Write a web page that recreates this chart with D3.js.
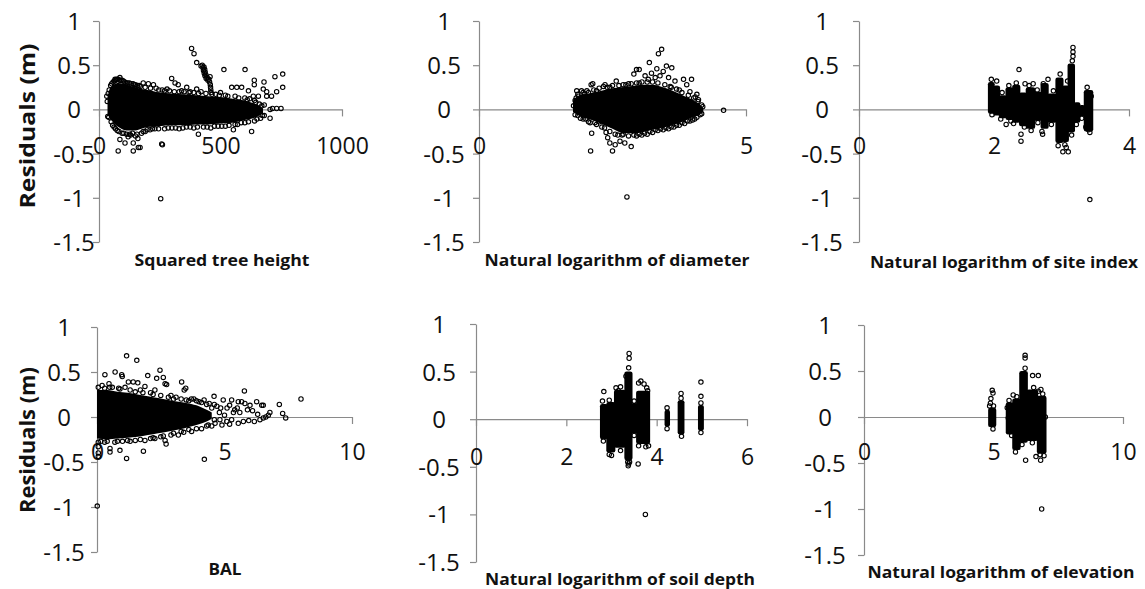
<!DOCTYPE html>
<html>
<head>
<meta charset="utf-8">
<script src="https://cdn.jsdelivr.net/npm/d3@7"></script>
<style>
  body { margin: 0; background: #fff; }
  svg { display: block; }
  text { font-family: "Open Sans", "Liberation Sans", sans-serif; }
</style>
</head>
<body>
<svg id="chart" width="1145" height="589"></svg>
<script>
// ---- axis ticks ----
const residualTicks = [1, 0.5, 0, -0.5, -1, -1.5];
const heightTicks = [0, 500, 1000];
const diameterTicks = [0, 5];
const siteIndexTicks = [0, 2, 4];
const balTicks = [0, 5, 10];
const soilDepthTicks = [0, 2, 4, 6];
const elevationTicks = [0, 5, 10];

// ---- residuals vs squared tree height ----
// overplotted core: [x, lowest residual, highest residual]
const heightCore = [
  [35, -0.06, 0.14], [45, -0.1, 0.24], [60, -0.15, 0.28], [80, -0.2, 0.3],
  [100, -0.23, 0.29], [125, -0.24, 0.27], [150, -0.24, 0.25], [175, -0.22, 0.23],
  [200, -0.2, 0.22], [250, -0.19, 0.19], [300, -0.18, 0.18], [350, -0.18, 0.17],
  [400, -0.17, 0.16], [450, -0.17, 0.15], [500, -0.16, 0.14], [550, -0.15, 0.12],
  [600, -0.12, 0.1], [635, -0.1, 0.07], [660, -0.07, 0.04], [675, -0.04, 0.01]
];
const heightPoints = [
  [38,0.18],[48,0.27],[58,0.31],[68,0.33],[78,0.34],[90,0.33],[100,0.32],[112,0.3],[125,0.3],
  [140,0.29],[150,0.28],[165,0.27],[182,0.3],[203,0.29],[224,0.28],[235,0.24],[260,0.22],[280,0.23],
  [299,0.35],[313,0.3],[326,0.28],[340,0.21],[361,0.25],[375,0.2],[402,0.23],[420,0.2],[480,0.17],
  [500,0.19],[520,0.16],[546,0.25],[567,0.25],[587,0.25],[560,0.15],[600,0.13],[615,0.21],[620,0.12],
  [635,0.15],[640,0.1],[656,0.15],[660,0.06],[676,0.23],[680,0.05],
  [42,0.22],[52,0.29],[63,0.32],[73,0.34],[84,0.33],[95,0.33],[106,0.31],[118,0.3],[132,0.29],
  [145,0.28],[158,0.27],[170,0.26],[190,0.25],[212,0.24],[246,0.22],[270,0.21],[290,0.21],[310,0.2],
  [330,0.2],[350,0.2],[370,0.19],[390,0.19],[410,0.18],[440,0.18],[465,0.17],[495,0.16],[530,0.15],
  [575,0.13],[610,0.11],[645,0.08],[670,0.04],
  [36,-0.08],[50,-0.14],[62,-0.2],[75,-0.24],[86,-0.34],[95,-0.27],[107,-0.38],[114,-0.28],[120,-0.31],
  [130,-0.29],[141,-0.38],[150,-0.3],[160,-0.33],[169,-0.43],[175,-0.27],[190,-0.25],[210,-0.23],
  [230,-0.22],[258,-0.39],[270,-0.22],[300,-0.21],[330,-0.22],[360,-0.2],[390,-0.21],[409,-0.28],
  [430,-0.2],[460,-0.21],[490,-0.19],[520,-0.19],[553,-0.23],[570,-0.17],[600,-0.15],[628,-0.25],
  [640,-0.13],[665,-0.1],[680,-0.07],[704,-0.1],
  [40,-0.09],[56,-0.18],[68,-0.22],[82,-0.25],[102,-0.27],[126,-0.28],[138,-0.27],[156,-0.28],
  [182,-0.25],[198,-0.23],[220,-0.22],[245,-0.22],[285,-0.21],[315,-0.21],[345,-0.21],[375,-0.2],
  [405,-0.2],[445,-0.2],[475,-0.19],[505,-0.19],[535,-0.18],[560,-0.17],[585,-0.15],[615,-0.14],
  [650,-0.11],[672,-0.07],
  [381,0.69],[391,0.63],[402,0.53],[254,-1.01],[79,-0.47],[141,-0.47],[162,-0.43],[261,-0.4],
  [514,0.45],[601,0.45],[639,0.33],[639,0.28],[679,0.31],[724,0.37],[756,0.4],[756,0.25],[731,0.2],
  [710,0.15],[690,0.2],[690,0.15],[714,0.01],[731,0.01],[749,0.01],[704,0.0],[32,0.15],[34,0.09],
  [66,0.34],[86,0.36],
  [420,0.49],[425,0.5],[428,0.47],[432,0.48],[430,0.44],[435,0.45],[433,0.41],[437,0.42],[436,0.38],
  [440,0.39],[441,0.35],[445,0.36],[448,0.33],[452,0.34],[455,0.31],[457,0.37],[458,0.28],[459,0.25],
  [460,0.22],[461,0.19]
];

// ---- residuals vs ln(diameter) ----
const diameterCore = [
  [1.76, -0.03, 0.1], [1.9, -0.08, 0.16], [2.05, -0.11, 0.18], [2.2, -0.14, 0.2],
  [2.35, -0.18, 0.22], [2.5, -0.22, 0.24], [2.65, -0.26, 0.25], [2.8, -0.27, 0.26],
  [2.95, -0.27, 0.27], [3.1, -0.25, 0.28], [3.25, -0.23, 0.28], [3.4, -0.21, 0.26],
  [3.55, -0.19, 0.23], [3.7, -0.16, 0.19], [3.85, -0.13, 0.15], [4.0, -0.09, 0.11],
  [4.12, -0.06, 0.06], [4.2, -0.03, 0.02]
];
const diameterPoints = [
  [1.77,0.04],[1.8,0.1],[1.82,0.13],[1.86,0.15],[1.92,0.21],[1.83,0.21],[1.98,0.17],[2.05,0.19],
  [2.1,0.28],[2.13,0.29],[2.2,0.21],[2.33,0.26],[2.36,0.28],[2.45,0.25],[2.57,0.32],[2.62,0.27],
  [2.75,0.28],[2.85,0.29],[2.9,0.4],[2.95,0.45],[3.0,0.45],[3.0,0.3],[3.11,0.38],[3.17,0.34],
  [3.19,0.53],[3.23,0.41],[3.3,0.36],[3.33,0.46],[3.36,0.63],[3.39,0.38],[3.42,0.68],[3.45,0.43],
  [3.51,0.49],[3.55,0.36],[3.61,0.47],[3.6,0.25],[3.67,0.32],[3.75,0.22],[3.83,0.34],[3.89,0.28],
  [3.95,0.2],[3.98,0.34],[4.05,0.14],[4.08,0.17],[4.11,0.11],[4.19,0.03],[4.58,-0.01],
  [1.85,0.17],[1.95,0.19],[2.02,0.21],[2.15,0.22],[2.25,0.24],[2.4,0.25],[2.5,0.27],[2.7,0.28],
  [2.8,0.29],[2.95,0.3],[3.05,0.31],[3.15,0.31],[3.25,0.31],[3.35,0.3],[3.48,0.28],[3.58,0.26],
  [3.7,0.23],[3.8,0.19],[3.92,0.16],[4.02,0.13],[4.1,0.09],[4.17,0.05],
  [1.8,-0.06],[1.9,-0.1],[2.0,-0.11],[2.08,-0.15],[2.17,-0.15],[2.25,-0.14],[2.11,-0.27],[2.09,-0.47],
  [2.3,-0.2],[2.38,-0.26],[2.41,-0.32],[2.45,-0.38],[2.5,-0.47],[2.55,-0.4],[2.6,-0.29],[2.64,-0.36],
  [2.73,-0.38],[2.7,-0.28],[2.85,-0.42],[2.9,-0.29],[3.0,-0.28],[3.1,-0.27],[3.2,-0.25],[3.3,-0.23],
  [3.4,-0.22],[3.5,-0.21],[3.6,-0.2],[3.7,-0.18],[3.8,-0.15],[3.9,-0.13],[4.0,-0.12],[4.04,-0.11],
  [4.14,-0.06],[2.77,-0.99],
  [1.85,-0.07],[1.95,-0.11],[2.05,-0.14],[2.2,-0.17],[2.35,-0.21],[2.45,-0.25],[2.55,-0.28],
  [2.68,-0.29],[2.8,-0.3],[2.95,-0.3],[3.05,-0.29],[3.15,-0.28],[3.25,-0.26],[3.35,-0.24],
  [3.45,-0.23],[3.55,-0.22],[3.65,-0.2],[3.75,-0.18],[3.85,-0.16],[3.95,-0.13],[4.08,-0.09],[4.17,-0.05]
];

// ---- residuals vs ln(site index) ----
// overplotted columns: [x from, x to, lowest residual, highest residual]
const siteIndexStripes = [
  [1.92, 2.0, -0.05, 0.31], [2.0, 2.08, -0.07, 0.27], [2.08, 2.18, -0.1, 0.16],
  [2.18, 2.28, -0.12, 0.25], [2.28, 2.38, -0.15, 0.28], [2.38, 2.48, -0.19, 0.19],
  [2.48, 2.6, -0.22, 0.25], [2.6, 2.7, -0.13, 0.2], [2.7, 2.8, -0.22, 0.3],
  [2.8, 2.92, -0.15, 0.18], [2.92, 3.02, -0.38, 0.36], [3.02, 3.1, -0.37, 0.27],
  [3.1, 3.19, -0.26, 0.52], [3.19, 3.27, -0.15, 0.08], [3.27, 3.34, -0.08, 0.05],
  [3.34, 3.46, -0.25, 0.22]
];
const siteIndexPoints = [
  [3.17,0.7],[3.17,0.65],[3.17,0.6],[3.16,0.55],[2.37,0.45],[2.4,-0.28],[2.4,-0.36],[3.02,-0.48],
  [3.1,-0.48],[3.07,-0.43],[2.29,-0.16],[2.72,-0.28],[2.71,-0.25],[2.04,0.32],[1.96,0.34],[2.46,0.29],
  [2.58,0.29],[2.73,0.29],[2.8,0.34],[2.88,0.21],[2.98,0.4],[3.09,0.32],[3.38,0.25],[3.42,-0.26],
  [3.4,-0.23],[3.42,-1.02],[2.18,-0.17],[1.97,-0.06],[2.22,0.27],[2.33,0.3],[2.12,0.19],[2.52,0.27],
  [2.64,0.22],[2.55,-0.24],[2.65,-0.15],[2.85,-0.17],[2.95,-0.41],[3.05,-0.4],[3.15,-0.29],
  [3.22,-0.17],[3.3,-0.1],[2.45,-0.2],[2.1,-0.11],[2.25,-0.13],[3.44,0.15],[3.36,-0.2]
];

// ---- residuals vs BAL ----
const balCore = [
  [0.0, -0.24, 0.3], [0.4, -0.25, 0.3], [0.8, -0.24, 0.28], [1.2, -0.23, 0.27],
  [1.6, -0.22, 0.25], [2.0, -0.2, 0.23], [2.4, -0.18, 0.21], [2.8, -0.16, 0.19],
  [3.2, -0.14, 0.17], [3.6, -0.11, 0.15], [4.0, -0.08, 0.12], [4.3, -0.05, 0.08],
  [4.5, -0.02, 0.05]
];
const balPoints = [
  [0.05,0.33],[0.2,0.35],[0.31,0.47],[0.47,0.37],[0.6,0.33],[0.71,0.5],[0.85,0.32],[0.97,0.47],
  [0.99,0.45],[1.1,0.33],[1.16,0.68],[1.23,0.39],[1.42,0.39],[1.56,0.63],[1.6,0.38],[1.7,0.3],
  [1.88,0.34],[1.99,0.46],[2.1,0.27],[2.27,0.3],[2.34,0.43],[2.47,0.52],[2.6,0.44],[2.67,0.37],
  [2.73,0.36],[2.9,0.24],[3.1,0.22],[3.32,0.39],[3.42,0.3],[3.48,0.32],[3.7,0.2],[3.9,0.18],
  [4.1,0.16],[4.3,0.14],[4.59,0.23],[4.7,0.12],[4.95,0.19],[5.1,0.1],[5.28,0.19],[5.4,0.08],
  [5.54,0.17],[5.67,0.17],[5.78,0.29],[5.8,0.15],[6.0,0.13],[6.1,0.07],[6.26,0.17],[6.46,0.13],
  [6.52,0.13],[7.15,0.14],[8.0,0.2],[7.28,0.04],[7.4,-0.01],[6.78,0.05],[6.72,0.02],[6.62,0.0],
  [6.52,-0.01],[6.39,-0.03],[6.17,-0.05],[5.74,-0.05],[5.54,-0.07],[5.28,-0.03],[5.09,-0.05],
  [4.82,-0.03],[4.63,-0.07],[4.36,-0.09],[4.8,0.05],[5.0,0.02],[5.6,0.05],
  [3.6,0.18],[3.8,0.2],[4.0,0.17],[4.2,0.19],[4.4,0.15],[4.5,0.1],[4.6,0.14],[4.85,0.1],[5.2,0.13],
  [5.35,0.05],[5.5,0.1],[5.9,0.08],[6.3,0.03],[5.95,-0.04],[5.2,-0.08],[4.9,-0.09],[4.5,-0.1],
  [4.6,-0.03],[4.3,-0.1],[3.6,-0.14],[3.3,-0.16],[3.0,-0.18],[2.6,-0.21],[2.2,-0.23],[1.7,-0.25],
  [1.2,-0.26],[0.8,-0.27],[0.4,-0.27],[0.15,-0.27],[0.3,0.32],[0.5,0.33],[0.9,0.31],[1.3,0.3],
  [1.5,0.28],[1.8,0.27],[2.2,0.25],[2.5,0.24],[2.8,0.22],[3.0,0.2],[3.3,0.2],[3.5,0.19],
  [0.05,-0.28],[0.05,-0.33],[0.05,-0.4],[0.05,-0.44],[0.3,-0.28],[0.51,-0.39],[0.51,-0.35],
  [0.7,-0.28],[0.9,-0.37],[1.0,-0.27],[1.16,-0.46],[1.3,-0.27],[1.5,-0.26],[1.82,-0.38],
  [1.88,-0.26],[2.1,-0.24],[2.27,-0.24],[2.5,-0.22],[2.67,-0.26],[2.71,-0.3],[2.9,-0.2],
  [3.19,-0.2],[3.4,-0.17],[3.71,-0.16],[3.9,-0.13],[4.1,-0.13],[4.21,-0.47],[0.01,-0.99]
];

// ---- residuals vs ln(soil depth) ----
const soilDepthStripes = [
  [2.76, 2.9, -0.21, 0.16], [2.9, 3.07, -0.35, 0.18], [3.07, 3.3, -0.3, 0.31],
  [3.3, 3.45, -0.43, 0.5], [3.45, 3.56, -0.15, 0.17], [3.56, 3.84, -0.26, 0.3],
  [4.19, 4.28, -0.08, 0.1], [4.48, 4.6, -0.16, 0.2], [4.93, 5.03, -0.12, 0.15]
];
const soilDepthPoints = [
  [2.83,0.29],[2.8,0.19],[2.95,0.2],[3.1,0.33],[3.2,0.34],[3.15,0.3],[3.39,0.69],[3.39,0.64],
  [3.38,0.54],[3.32,0.45],[3.38,-0.47],[3.37,-0.49],[3.36,-0.45],[3.59,-0.47],[3.6,0.38],[3.65,0.4],
  [3.72,0.37],[3.8,0.3],[3.78,0.33],[3.82,-0.28],[3.76,-0.29],[3.6,-0.28],[3.0,-0.38],[2.95,-0.37],
  [2.82,-0.23],[3.2,-0.33],[3.4,-0.45],[4.23,0.12],[4.23,-0.1],[4.54,0.27],[4.54,0.22],[4.55,-0.18],
  [4.98,0.39],[4.98,0.24],[4.98,0.17],[4.98,-0.14],[3.5,0.19],[3.5,-0.17],[3.75,-1.0]
];

// ---- residuals vs ln(elevation) ----
const elevationStripes = [
  [4.82, 5.08, -0.11, 0.1], [5.5, 5.75, -0.19, 0.16], [5.75, 6.02, -0.36, 0.2],
  [6.02, 6.3, -0.28, 0.5], [6.3, 6.7, -0.26, 0.3], [6.7, 7.02, -0.4, 0.23]
];
const elevationPoints = [
  [4.95,0.29],[4.98,0.26],[4.9,0.2],[4.88,0.15],[4.98,-0.13],[4.85,0.12],[5.0,0.12],[5.57,-0.01],
  [5.6,0.18],[5.76,0.24],[5.7,-0.2],[5.85,-0.38],[5.9,0.22],[6.22,0.67],[6.22,0.64],[6.22,0.53],
  [6.15,0.4],[6.51,0.45],[6.73,0.45],[6.83,0.3],[6.73,0.28],[6.55,0.32],[6.9,0.25],[6.1,-0.3],
  [6.24,-0.47],[6.82,-0.47],[6.64,-0.43],[6.86,-1.0],[6.5,-0.28],[6.95,-0.42],[6.8,-0.41],
  [7.0,0.0],[5.53,0.1]
];

// ---- panel layout ----
const panels = [
  { title: "Squared tree height", ticks: heightTicks, domain: [0, 1000], core: heightCore, points: heightPoints,
    x0: 99, x1: 342, yTop: 21, yBot: 242, labelCx: 74, tickBase: 154, titleX: 222, titleY: 266, titleW: 175 },
  { title: "Natural logarithm of diameter", ticks: diameterTicks, domain: [0, 5], core: diameterCore, points: diameterPoints,
    x0: 479, x1: 746, yTop: 21, yBot: 242, labelCx: 444, tickBase: 154, titleX: 617, titleY: 266, titleW: 265 },
  { title: "Natural logarithm of site index", ticks: siteIndexTicks, domain: [0, 4], stripes: siteIndexStripes, points: siteIndexPoints,
    x0: 859, x1: 1129, yTop: 21, yBot: 242, labelCx: 822, tickBase: 154, titleX: 1004, titleY: 268, titleW: 268 },
  { title: "BAL", ticks: balTicks, domain: [0, 10], core: balCore, points: balPoints,
    x0: 97, x1: 352, yTop: 327, yBot: 552, labelCx: 64, tickBase: 460, titleX: 225, titleY: 575, titleW: 33 },
  { title: "Natural logarithm of soil depth", ticks: soilDepthTicks, domain: [0, 6], stripes: soilDepthStripes, points: soilDepthPoints,
    x0: 476, x1: 747, yTop: 324, yBot: 562, labelCx: 439, tickBase: 465, titleX: 620, titleY: 585, titleW: 270 },
  { title: "Natural logarithm of elevation", ticks: elevationTicks, domain: [0, 10], stripes: elevationStripes, points: elevationPoints,
    x0: 864, x1: 1123, yTop: 325, yBot: 555, labelCx: 825, tickBase: 460, titleX: 1001, titleY: 578, titleW: 267 }
];

const yTitles = [
  { text: "Residuals  (m)", cx: 27, cy: 126, len: 165 },
  { text: "Residuals (m)", cx: 27, cy: 440, len: 146 }
];

const svg = d3.select("#chart");
const axisColor = "#8a8a8a";
const inkColor = "#111";

panels.forEach(p => {
  const x = d3.scaleLinear().domain(p.domain).range([p.x0, p.x1]);
  const y = d3.scaleLinear().domain([1, -1.5]).range([p.yTop, p.yBot]);
  const g = svg.append("g");

  // vertical residual axis
  const yAxis = g.append("g")
    .attr("transform", `translate(${p.x0},0)`)
    .call(d3.axisLeft(y).tickValues(residualTicks).tickSize(6).tickSizeOuter(0).tickFormat(d => String(d)));
  yAxis.selectAll("path, line").attr("stroke", axisColor).attr("stroke-width", 1.2);
  yAxis.selectAll("text")
    .attr("x", p.labelCx - p.x0).attr("dy", "0.35em")
    .attr("text-anchor", "middle")
    .attr("font-size", 24).attr("font-family", "Open Sans").attr("fill", inkColor);

  // horizontal axis drawn through zero residual
  const xAxis = g.append("g")
    .attr("transform", `translate(0,${y(0)})`)
    .call(d3.axisBottom(x).tickValues(p.ticks).tickSize(7).tickSizeOuter(0).tickFormat(d => String(d)));
  xAxis.selectAll("path, line").attr("stroke", axisColor).attr("stroke-width", 1.2);
  xAxis.selectAll("text")
    .attr("y", p.tickBase - y(0)).attr("dy", 0)
    .attr("font-size", 23).attr("font-family", "Open Sans").attr("fill", inkColor);

  // axis title
  g.append("text")
    .attr("x", p.titleX).attr("y", p.titleY)
    .attr("text-anchor", "middle")
    .attr("font-size", 16).attr("font-weight", "bold").attr("fill", inkColor)
    .attr("textLength", p.titleW).attr("lengthAdjust", "spacingAndGlyphs")
    .text(p.title);

  // overplotted core of the residual cloud
  if (p.core) {
    const area = d3.area()
      .x(d => x(d[0])).y0(d => y(d[1])).y1(d => y(d[2]))
      .curve(d3.curveMonotoneX);
    g.append("path").datum(p.core).attr("d", area).attr("fill", "#000");
  }
  if (p.stripes) {
    // neighbouring columns overlap by a pixel so they merge into one mass
    g.selectAll("rect.stripe").data(p.stripes).join("rect")
      .attr("class", "stripe")
      .attr("x", d => x(d[0]) - 0.7).attr("width", d => x(d[1]) - x(d[0]) + 1.4)
      .attr("y", d => y(d[3])).attr("height", d => y(d[2]) - y(d[3]))
      .attr("rx", 2.2).attr("fill", "#000");
  }

  // individual residual markers
  g.selectAll("circle").data(p.points).join("circle")
    .attr("cx", d => x(d[0])).attr("cy", d => y(d[1]))
    .attr("r", 2.2).attr("fill", "none")
    .attr("stroke", "#000").attr("stroke-width", 1.1);
});

yTitles.forEach(t => {
  svg.append("text")
    .attr("transform", `translate(${t.cx},${t.cy}) rotate(-90)`)
    .attr("text-anchor", "middle").attr("dy", "0.35em")
    .attr("font-size", 22).attr("font-weight", "bold").attr("fill", inkColor)
    .attr("textLength", t.len).attr("lengthAdjust", "spacingAndGlyphs")
    .text(t.text);
});
</script>
</body>
</html>
